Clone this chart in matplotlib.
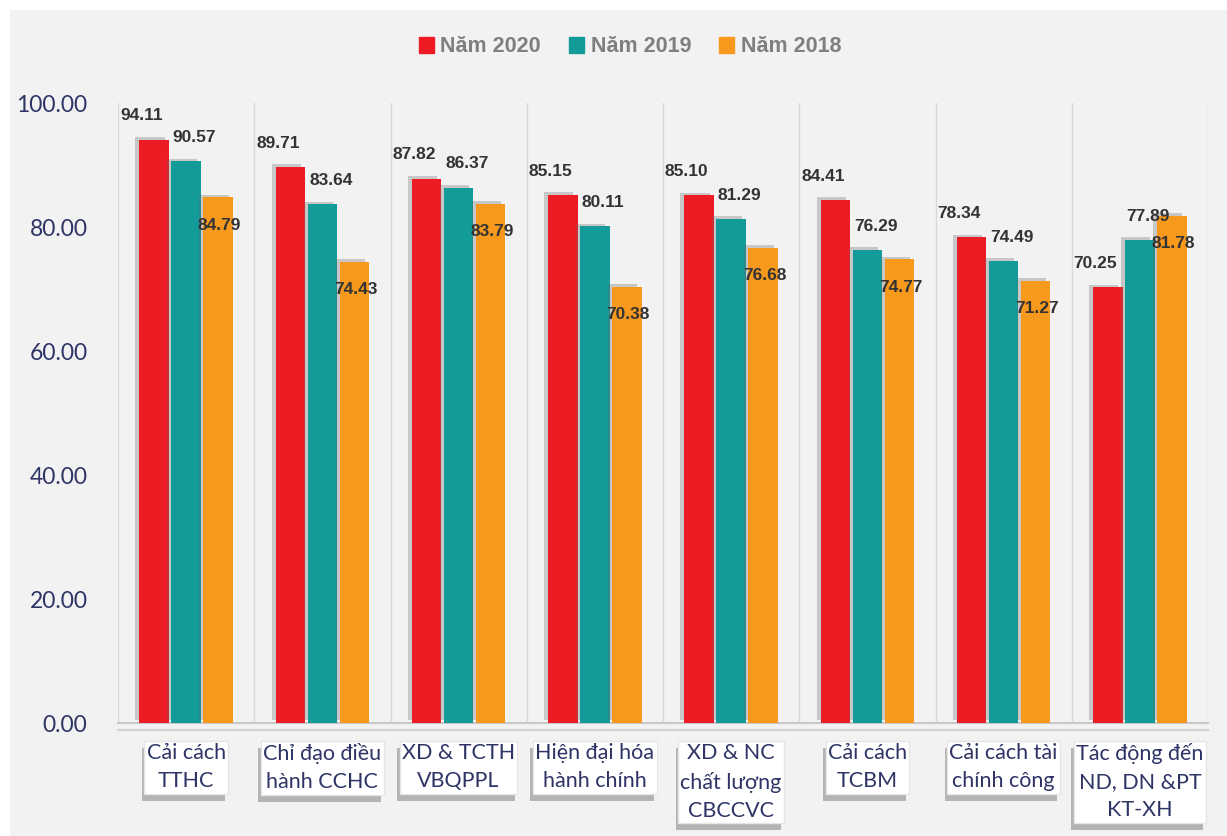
import matplotlib
matplotlib.use("Agg")
import matplotlib.pyplot as plt
import matplotlib.patheffects as pe
from matplotlib.patches import Rectangle
from matplotlib.transforms import blended_transform_factory
import numpy as np

# dữ liệu
categories = ["Cải cách\nTTHC", "Chỉ đạo điều\nhành CCHC", "XD & TCTH\nVBQPPL",
              "Hiện đại hóa\nhành chính", "XD & NC\nchất lượng\nCBCCVC", "Cải cách\nTCBM",
              "Cải cách tài\nchính công", "Tác động đến\nND, DN &PT\nKT-XH"]
series_names = ["Năm 2020", "Năm 2019", "Năm 2018"]
nam_2020 = [94.11, 89.71, 87.82, 85.15, 85.10, 84.41, 78.34, 70.25]
nam_2019 = [90.57, 83.64, 86.37, 80.11, 81.29, 76.29, 74.49, 77.89]
nam_2018 = [84.79, 74.43, 83.79, 70.38, 76.68, 74.77, 71.27, 81.78]
y_ticks = [0, 20, 40, 60, 80, 100]

colors = ["#ED1C24", "#139B9A", "#F7991C"]
label_offsets = [(-9, 17), (6, 17), (1, -20)]
navy = "#2E3466"
label_font = ["Lato", "DejaVu Sans"]

fig = plt.figure(figsize=(12.27, 8.36), dpi=100, facecolor="white")
fig.patches.append(Rectangle((10 / 1227, 0), 1, 1 - 10 / 836, transform=fig.transFigure,
                             facecolor="#F2F2F2", edgecolor="none", zorder=-10))
ax = fig.add_axes([118 / 1227, 1 - 723 / 836, 1090 / 1227, 620 / 836])
ax.set_facecolor("#F2F2F2")

x = np.arange(len(categories))
w = 0.215
gap = 0.235
data = [nam_2020, nam_2019, nam_2018]
shadow = [pe.SimplePatchShadow(offset=(-3, 2), shadow_rgbFace="#666666", alpha=0.3), pe.Normal()]
for i, vals in enumerate(data):
    pos = x + (i - 1) * gap
    bars = ax.bar(pos, vals, w, color=colors[i], zorder=3)
    for b in bars:
        b.set_path_effects(shadow)
    for p, v in zip(pos, vals):
        dx, dy = label_offsets[i]
        ax.annotate(f"{v:.2f}", (p, v), xytext=(dx, dy), textcoords="offset points",
                    ha="center", va="center", fontsize=12.5, fontweight="bold",
                    color="#333333", family=["Liberation Sans", "DejaVu Sans"], zorder=5)

ax.set_xlim(-0.5, len(categories) - 0.5)
ax.set_ylim(0, 100)
ax.set_yticks(y_ticks)
ax.set_yticklabels([f"{t:.2f}" for t in y_ticks], color=navy, fontsize=16.5,
                   family=label_font)
ax.tick_params(axis="y", length=0, pad=22)
ax.set_xticks([])
for b in np.arange(-0.5, len(categories), 1):
    ax.axvline(b, color="#D9D9D9", lw=1, zorder=1)
for s in ["top", "right", "left"]:
    ax.spines[s].set_visible(False)
ax.spines["bottom"].set_color("#C8C8C8")
ax.spines["bottom"].set_linewidth(1.5)
ax.spines["bottom"].set_path_effects([pe.SimpleLineShadow(offset=(0, -5), shadow_color="#999999", alpha=0.35), pe.Normal()])

# nhãn danh mục
base = blended_transform_factory(ax.transData, ax.transAxes)
for xi, c in zip(x, categories):
    t = ax.text(xi, -0.033, c, transform=base, ha="center", va="top", fontsize=15.5,
                color=navy, family=label_font, linespacing=1.5,
                bbox=dict(boxstyle="square,pad=0.1", fc="white", ec="#E6E6E6"),
                clip_on=False)
    t.get_bbox_patch().set_path_effects(
        [pe.SimplePatchShadow(offset=(-2, -5), shadow_rgbFace="#777777", alpha=0.5), pe.Normal()])

handles = [Rectangle((0, 0), 1, 1, color=c) for c in colors]
leg = fig.legend(handles, series_names, loc="center", bbox_to_anchor=(630 / 1227, 1 - 47 / 836),
                 ncol=3, frameon=False, handlelength=0.7, handleheight=0.7, handletextpad=0.3,
                 columnspacing=1.3, prop={"size": 15.5, "weight": "bold",
                                          "family": ["Liberation Sans", "DejaVu Sans"]})
for txt in leg.get_texts():
    txt.set_color("#7F7F7F")

fig.savefig("out.png", dpi=100, facecolor=fig.get_facecolor())
